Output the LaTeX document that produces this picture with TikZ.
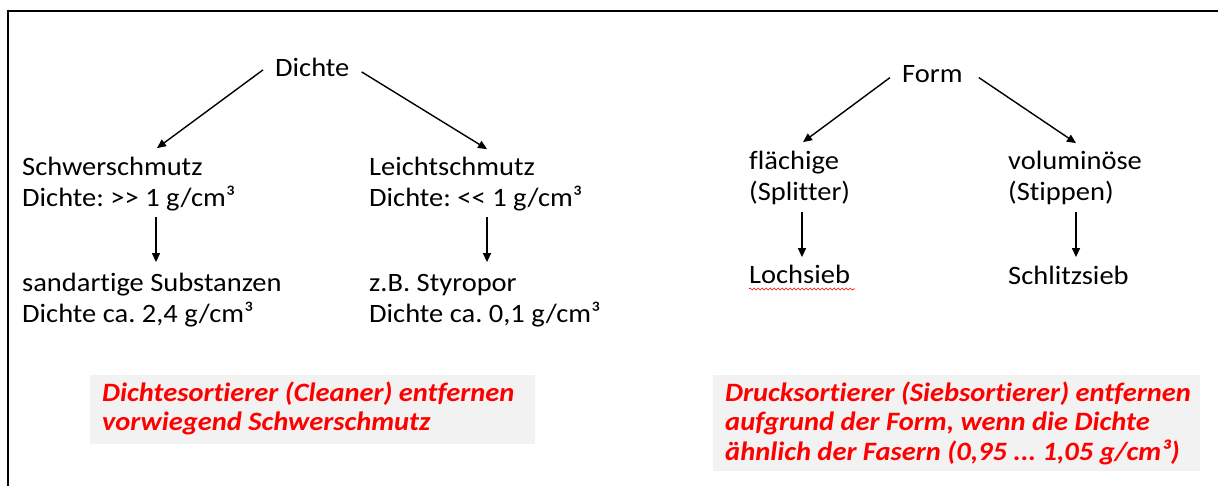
\documentclass[tikz,border=0pt]{standalone}
\usepackage{fontspec}
\setmainfont{Carlito}[FakeStretch=1.075, Ligatures=NoCommon]
\usetikzlibrary{arrows.meta,decorations.pathmorphing}
\definecolor{boxgray}{HTML}{F2F2F2}
\definecolor{pptred}{HTML}{FF0000}
\newcommand{\blk}[1]{\begin{tabular}[t]{@{}l@{}}#1\end{tabular}}
\frenchspacing
\begin{document}
\begin{tikzpicture}[x=1pt,y=-1pt,
  txt/.style={font=\fontsize{26.5}{31}\selectfont\frenchspacing, inner sep=0pt, anchor=base west},
  hub/.style={font=\fontsize{26.5}{31}\selectfont, inner xsep=12pt, inner ysep=0pt, anchor=base west},
  note/.style={font=\fontsize{26.5}{29.5}\selectfont\bfseries\itshape\frenchspacing, text=pptred, inner sep=0pt, anchor=base west},
  arr/.style={line width=1.4pt, -{Triangle[length=9pt,width=8pt]}},
  frame/.style={line width=2pt, black}]
\useasboundingbox (0,0) rectangle (1218,486);
\fill[white] (0,0) rectangle (1218,486);
\draw[frame] (8,486) -- (8,11) -- (1218,11);

% grey note backgrounds
\fill[boxgray] (90,375) rectangle (535,444);
\fill[boxgray] (713,375) rectangle (1200,471);

% left tree
\node[hub] (dichte) at (263,77) {Dichte};
\node[txt] (schwer) at (22,176) {\blk{Schwerschmutz\\Dichte: >{}> 1 g/cm³}};
\node[txt] (leicht) at (369,176) {\blk{Leichtschmutz\\Dichte: <{}< 1 g/cm³}};
\node[txt] (sand) at (22,292) {\blk{sandartige Substanzen\\Dichte ca. 2,4 g/cm³}};
\node[txt] (styro) at (369,292) {\blk{z.B. Styropor\\Dichte ca. 0,1 g/cm³}};

% right tree
\node[hub] (form) at (890,83) {Form};
\node[txt] (flach) at (749,170) {\blk{flächige\\(Splitter)}};
\node[txt] (volum) at (1008,170) {\blk{voluminöse\\(Stippen)}};
\node[txt] (loch) at (749,284) {\blk{Lochsieb}};
\node[txt] (schlitz) at (1008,285) {\blk{Schlitzsieb}};

% notes
\node[note] (note1) at (102,401) {\blk{Dichtesortierer (Cleaner) entfernen\\vorwiegend Schwerschmutz}};
\node[note] (note2) at (725,401) {\blk{Drucksortierer (Siebsortierer) entfernen\\aufgrund der Form, wenn die Dichte\\ähnlich der Fasern (0,95 ... 1,05 g/cm³)}};

% connectors
\draw[arr] ([shift={(0,2)}]dichte.west) -- ([shift={(135,-6)}]schwer.north west);
\draw[arr] ([shift={(0,4)}]dichte.east) -- ([shift={(118,-5)}]leicht.north west);
\draw[arr] ([shift={(134,1)}]schwer.south west) -- ([shift={(134,-8)}]sand.north west);
\draw[arr] ([shift={(118,1)}]leicht.south west) -- ([shift={(118,-8)}]styro.north west);

\draw[arr] ([shift={(0,3)}]form.west) -- ([shift={(54,-6)}]flach.north west);
\draw[arr] ([shift={(4,3)}]form.east) -- ([shift={(68,-5)}]volum.north west);
\draw[arr] ([shift={(53,2)}]flach.south west) -- ([shift={(53,-5)}]loch.north west);
\draw[arr] ([shift={(68,2)}]volum.south west) -- ([shift={(68,-6)}]schlitz.north west);

% spell-check wavy underline
\draw[pptred, line width=0.6pt, decorate, decoration={snake, amplitude=1pt, segment length=4pt}]
  ([shift={(0,5)}]loch.base west) -- ([shift={(5,5)}]loch.base east);
\end{tikzpicture}
\end{document}
